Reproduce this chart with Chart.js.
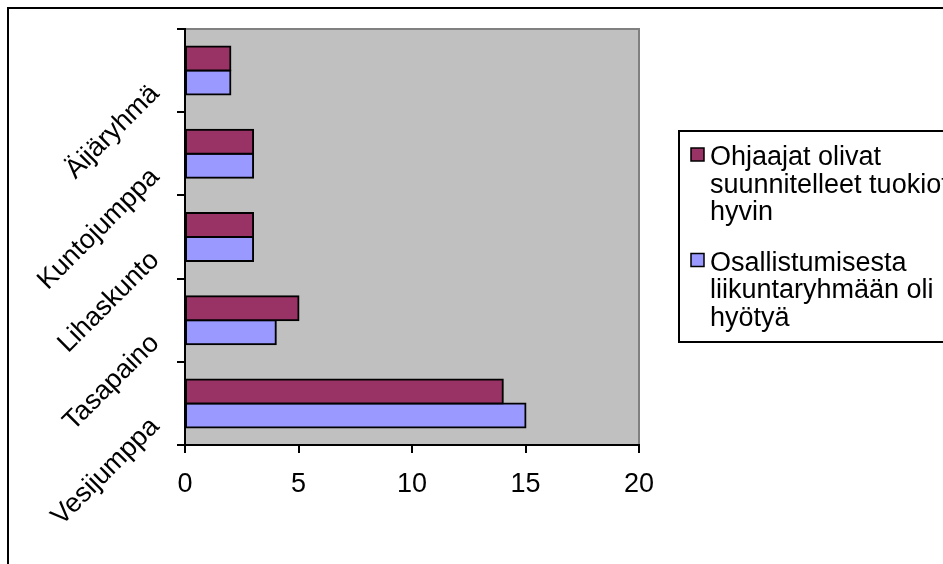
<!DOCTYPE html>
<html>
<head>
<meta charset="utf-8">
<script src="https://cdn.jsdelivr.net/npm/chart.js@4.4.1/dist/chart.umd.min.js"></script>
<style>
  html, body { margin: 0; padding: 0; background: #fff; }
</style>
</head>
<body>
<canvas id="ryhmat" width="943" height="564"></canvas>
<script>
// Groups listed top to bottom as they appear on the axis
const ryhmat = ['Äijäryhmä', 'Kuntojumppa', 'Lihaskunto', 'Tasapaino', 'Vesijumppa'];
const ohjaajat = [2, 3, 3, 5, 14];
const hyoty = [2, 3, 3, 4, 15];
// Legend names, already split into lines
const sarjaOhjaajat = ['Ohjaajat olivat', 'suunnitelleet tuokiot', 'hyvin'];
const sarjaHyoty = ['Osallistumisesta', 'liikuntaryhmään oli', 'hyötyä'];
const xTicks = [0, 5, 10, 15, 20];

const FONT = "'Liberation Sans', Arial, sans-serif";
const FONT_SIZE = 27;

// Outer frame + grey plot background
const frame = {
    id: 'frame',
    beforeDraw(chart) {
        const { ctx, chartArea: a } = chart;
        ctx.save();
        ctx.fillStyle = '#fff';
        ctx.fillRect(0, 0, chart.width, chart.height);
        ctx.lineWidth = 2;
        ctx.strokeStyle = '#000';
        ctx.strokeRect(8, 8, chart.width + 20, chart.height + 20);
        ctx.fillStyle = '#c0c0c0';
        ctx.fillRect(a.left, a.top, a.right - a.left, a.bottom - a.top);
        ctx.strokeStyle = '#808080';
        ctx.beginPath();
        ctx.moveTo(a.left, a.top);
        ctx.lineTo(a.right, a.top);
        ctx.lineTo(a.right, a.bottom);
        ctx.stroke();
        ctx.restore();
    }
};

// Legend box on the right, multi-line entries
const legendBox = {
    id: 'legendBox',
    afterDraw(chart) {
        const ctx = chart.ctx;
        ctx.save();
        ctx.lineWidth = 2;
        ctx.strokeStyle = '#000';
        ctx.strokeRect(679, 131, 300, 211);
        ctx.font = FONT_SIZE + 'px ' + FONT;
        ctx.textBaseline = 'alphabetic';
        let y = 165;
        chart.data.datasets.forEach(ds => {
            ctx.fillStyle = ds.backgroundColor;
            ctx.fillRect(691, y - 17, 13, 13);
            ctx.lineWidth = 1.5;
            ctx.strokeRect(691, y - 17, 13, 13);
            ctx.fillStyle = '#000';
            ds.lines.forEach((line, i) => ctx.fillText(line, 710, y + i * 27.5));
            y += 105.5;
        });
        ctx.restore();
    }
};

// keep the plot box fixed whatever the rotated labels need
const fixBox = (s, size) => {
    if (s.isHorizontal()) s.height = size; else s.width = size;
    s.paddingTop = s.paddingBottom = s.paddingLeft = s.paddingRight = 0;
};

const ctx = document.getElementById('ryhmat').getContext('2d');
new Chart(ctx, {
    type: 'bar',
    data: {
        labels: ryhmat,
        datasets: [
            {
                label: sarjaOhjaajat.join(' '),
                lines: sarjaOhjaajat,
                data: ohjaajat,
                backgroundColor: '#993366'
            },
            {
                label: sarjaHyoty.join(' '),
                lines: sarjaHyoty,
                data: hyoty,
                backgroundColor: '#9999ff'
            }
        ]
    },
    options: {
        indexAxis: 'y',
        responsive: false,
        animation: false,
        layout: { padding: { left: 0, top: 29, right: 304, bottom: 0 } },
        datasets: {
            bar: {
                categoryPercentage: 0.577,
                barPercentage: 1,
                borderColor: '#000',
                borderWidth: 2,
                borderSkipped: false,
                inflateAmount: 1
            }
        },
        plugins: {
            legend: { display: false },
            tooltip: { enabled: false }
        },
        scales: {
            x: {
                min: 0,
                max: 20,
                afterBuildTicks: s => { s.ticks = xTicks.map(v => ({ value: v })); },
                afterFit: s => fixBox(s, 119),
                grid: { drawOnChartArea: false, tickLength: 8, color: '#000', lineWidth: 2 },
                border: { color: '#000', width: 2 },
                ticks: { color: '#000', padding: 15, font: { family: FONT, size: FONT_SIZE } }
            },
            y: {
                afterFit: s => fixBox(s, 185),
                grid: { offset: true, drawOnChartArea: false, tickLength: 8, color: '#000', lineWidth: 2 },
                border: { color: '#000', width: 2 },
                ticks: {
                    color: '#000',
                    minRotation: 45,
                    maxRotation: 45,
                    labelOffset: 19,
                    padding: 22,
                    font: { family: FONT, size: FONT_SIZE }
                }
            }
        }
    },
    plugins: [frame, legendBox]
});
</script>
</body>
</html>
